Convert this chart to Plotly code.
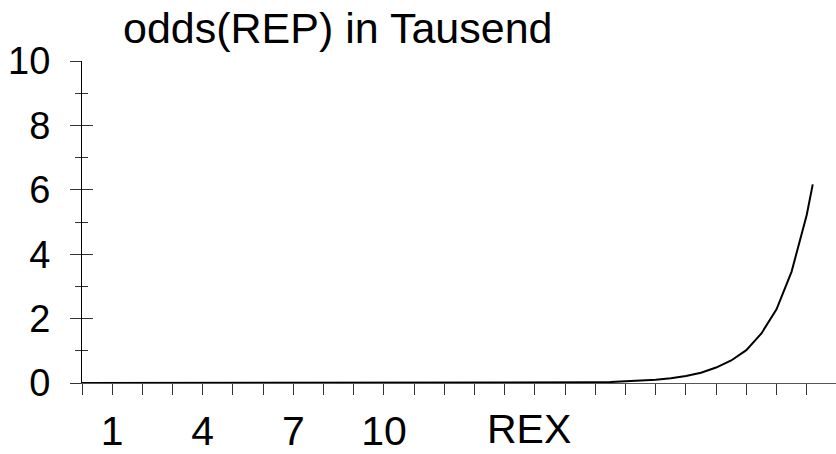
import plotly.graph_objects as go

# Data (odds in thousands vs REX)
rex = [0, 4, 8, 12, 14, 15, 16, 16.5, 17, 17.5, 18, 18.5, 19, 19.5, 20, 20.5,
       21, 21.5, 22, 22.5, 23, 23.5, 24, 24.2]
odds_k = [0.0, 0.0, 0.0, 0.0, 0.0, 0.005, 0.01, 0.015, 0.02, 0.03, 0.05, 0.07,
          0.10, 0.15, 0.22, 0.32, 0.48, 0.70, 1.02, 1.54, 2.29, 3.46, 5.22, 6.17]

x_tickvals = list(range(0, 25))
x_ticktext = ["" if v not in (1, 4, 7, 10) else str(v) for v in x_tickvals]
y_tickvals = [0, 2, 4, 6, 8, 10]
title_text = "odds(REP) in Tausend"
x_label = "REX"

FONT = "Liberation Sans, Arial, sans-serif"

L, T, B = 82, 61, 71
DOMAIN_W = 836 - L
DOMAIN_H = 454 - T - B

fig = go.Figure()
fig.add_trace(go.Scatter(x=rex, y=odds_k, mode="lines",
                         line=dict(color="black", width=2),
                         cliponaxis=False, showlegend=False))

fig.update_layout(
    width=836, height=454,
    margin=dict(l=L, r=0, t=T, b=B),
    paper_bgcolor="white", plot_bgcolor="white",
    font=dict(family=FONT, color="black", size=40),
    xaxis=dict(range=[0, 24.97], tickmode="array", tickvals=x_tickvals,
               ticktext=x_ticktext, ticks="outside", ticklen=11, tickwidth=1,
               tickcolor="#333", showline=True, linecolor="#555", linewidth=1,
               showgrid=False, zeroline=False, tickfont=dict(size=41),
               ticklabelstandoff=1, automargin=False),
    yaxis=dict(range=[0, 10], tickmode="array", tickvals=y_tickvals,
               ticks="outside", ticklen=11, tickwidth=1, tickcolor="#333",
               minor=dict(dtick=1, ticks="outside", ticklen=6, tickcolor="#333"),
               showline=True, linecolor="black", linewidth=1,
               showgrid=False, zeroline=False, tickfont=dict(size=38),
               ticklabelstandoff=12, automargin=False),
    yaxis2=dict(range=[0, 10], overlaying="y", side="left", anchor="x",
                tickmode="array", tickvals=y_tickvals,
                ticks="inside", ticklen=11, tickwidth=1, tickcolor="#333",
                minor=dict(dtick=1, ticks="inside", ticklen=6, tickcolor="#333"),
                showline=False, showgrid=False, zeroline=False,
                showticklabels=False, automargin=False),
)

# invisible trace to activate the overlay axis used for inward ticks
fig.add_trace(go.Scatter(x=[None], y=[None], yaxis="y2", showlegend=False,
                         hoverinfo="skip"))

fig.add_annotation(text=title_text, xref="paper", yref="paper",
                   x=(121 - L) / DOMAIN_W, y=1 + (61 - 28) / DOMAIN_H,
                   xanchor="left", yanchor="middle", showarrow=False,
                   font=dict(size=43, family=FONT))
fig.add_annotation(text=x_label, xref="x", yref="paper",
                   x=14.8, y=-(429 - 383) / DOMAIN_H, xanchor="center",
                   yanchor="middle", showarrow=False,
                   font=dict(size=41, family=FONT))

fig.write_html("out.html", config={"displayModeBar": False},
               post_script="document.body.style.margin='0px';")
